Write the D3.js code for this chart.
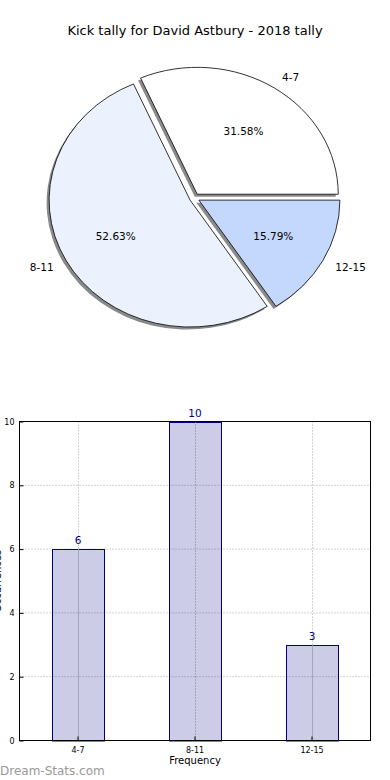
<!DOCTYPE html>
<html><head><meta charset="utf-8">
<script src="https://cdn.jsdelivr.net/npm/d3@7"></script>
<style>body{margin:0;background:#fff}svg{display:block}text{font-family:"DejaVu Sans",sans-serif}</style>
</head><body>
<script>
const categories = ["4-7", "8-11", "12-15"];
const counts = [6, 10, 3];
const pieColors = ["#ffffff", "#ebf2fe", "#c4d8fe"];
const yTicks = [0, 2, 4, 6, 8, 10];
const title = "Kick tally for David Astbury - 2018 tally";

const W = 390, H = 780;
const svg = d3.select("body").append("svg").attr("width", W).attr("height", H);

svg.append("text").attr("x", 195).attr("y", 35).attr("text-anchor", "middle")
  .attr("font-size", 13).attr("fill", "#000").text(title);

// Pie (axes not equal-aspect: ellipse)
const cx = 194.5, cy = 198, R = 141, sy = 0.9, explode = 5;
const total = d3.sum(counts);
const pie = d3.pie().sort(null).value(d => d)
  .startAngle(Math.PI / 2).endAngle(Math.PI / 2 - 2 * Math.PI);
const arcs = pie(counts);
const arc = d3.arc().innerRadius(0).outerRadius(R);
const g = svg.append("g").attr("transform", `translate(${cx},${cy})`);
const gs = g.append("g").attr("transform", `scale(1,${sy})`);

function offs(a) {
  const mid = (a.startAngle + a.endAngle) / 2;
  return [Math.sin(mid) * explode, -Math.cos(mid) * explode];
}
arcs.forEach((a) => {
  const [dx, dy] = offs(a);
  gs.append("path").attr("d", arc(a))
    .attr("transform", `translate(${dx - 2.5},${dy + 2.8})`)
    .attr("fill", "#8a8a8a");
});
arcs.forEach((a, i) => {
  const [dx, dy] = offs(a);
  gs.append("path").attr("d", arc(a))
    .attr("transform", `translate(${dx},${dy})`)
    .attr("fill", pieColors[i]).attr("stroke", "#000").attr("stroke-width", 0.8)
    .attr("vector-effect", "non-scaling-stroke");
});
arcs.forEach((a, i) => {
  const mid = (a.startAngle + a.endAngle) / 2;
  const [dx, dy] = offs(a);
  const pr = R * 0.6, lr = R * 1.1;
  g.append("text")
    .attr("x", Math.sin(mid) * pr + dx).attr("y", (-Math.cos(mid) * pr + dy) * sy + 4)
    .attr("text-anchor", "middle").attr("font-size", 10.5)
    .text((counts[i] / total * 100).toFixed(2) + "%");
  const lx = Math.sin(mid) * lr + dx, ly = (-Math.cos(mid) * lr + dy) * sy;
  g.append("text").attr("x", lx).attr("y", ly + 4)
    .attr("text-anchor", Math.sin(mid) >= 0 ? "start" : "end")
    .attr("font-size", 10.5).text(categories[i]);
});

// Bar chart
const L = 19.5, Rt = 370.5, T = 421.5, B = 740.5;
const x = d3.scaleBand().domain(categories).range([L, Rt]);
const y = d3.scaleLinear().domain([0, 10]).range([B, T]);
const bw = 52;
const bg = svg.append("g");

yTicks.forEach(t => {
  bg.append("line").attr("x1", L).attr("x2", Rt).attr("y1", y(t)).attr("y2", y(t))
    .attr("stroke", "#a8a8a8").attr("stroke-dasharray", "1,2").attr("stroke-width", 1);
});
categories.forEach(c => {
  const xc = Math.round(x(c) + x.bandwidth() / 2) + 0.5;
  bg.append("line").attr("x1", xc).attr("x2", xc).attr("y1", T).attr("y2", B)
    .attr("stroke", "#a8a8a8").attr("stroke-dasharray", "1,2").attr("stroke-width", 1);
});

categories.forEach((c, i) => {
  const xc = x(c) + x.bandwidth() / 2;
  bg.append("rect").attr("x", Math.round(xc - bw / 2) + 0.5).attr("y", Math.round(y(counts[i])) + 0.5)
    .attr("width", bw).attr("height", y(0) - Math.round(y(counts[i])))
    .attr("fill", "rgba(0,0,128,0.2)").attr("stroke", "#000080").attr("stroke-width", 1);
  bg.append("line").attr("x1", Math.round(xc) + 0.5).attr("x2", Math.round(xc) + 0.5)
    .attr("y1", y(counts[i])).attr("y2", B)
    .attr("stroke", "#9a9aae").attr("stroke-dasharray", "1,2");
  bg.append("text").attr("x", xc).attr("y", y(counts[i]) - 5)
    .attr("text-anchor", "middle").attr("font-size", 10.5).attr("fill", "#000080")
    .text(counts[i]);
});

bg.append("rect").attr("x", L).attr("y", T).attr("width", Rt - L).attr("height", B - T)
  .attr("fill", "none").attr("stroke", "#000").attr("stroke-width", 1);

const yAxis = d3.axisLeft(y).tickValues(yTicks).tickSize(-4).tickPadding(5);
const ya = svg.append("g").attr("transform", `translate(${L},0)`).call(yAxis);
ya.select(".domain").remove();
ya.selectAll("text").attr("font-size", 8).attr("font-family", "DejaVu Sans, sans-serif");

const xAxis = d3.axisBottom(x).tickSize(-4).tickPadding(7);
const xa = svg.append("g").attr("transform", `translate(0,${B})`).call(xAxis);
xa.select(".domain").remove();
xa.selectAll("text").attr("font-size", 8).attr("font-family", "DejaVu Sans, sans-serif");

svg.append("text").attr("x", (L + Rt) / 2).attr("y", 764).attr("text-anchor", "middle")
  .attr("font-size", 10).text("Frequency");
svg.append("text").attr("transform", `translate(1,${(T + B) / 2}) rotate(-90)`)
  .attr("text-anchor", "middle").attr("font-size", 10).text("Occurrences");

svg.append("text").attr("x", 0).attr("y", 775).attr("font-size", 12)
  .attr("fill", "#999").text("Dream-Stats.com");
</script>
</body></html>
